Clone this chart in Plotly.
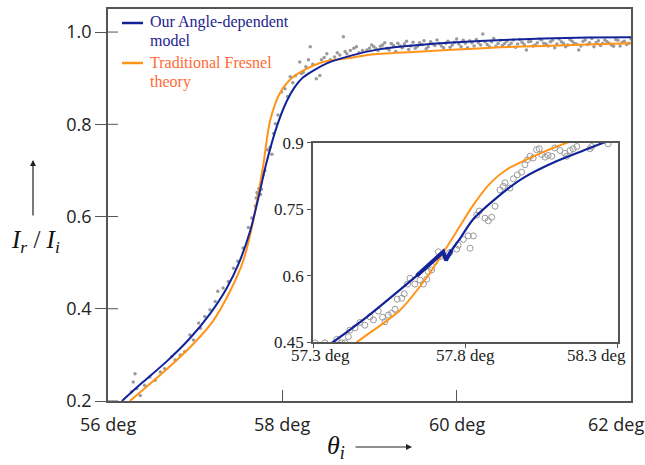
import plotly.graph_objects as go

# ---------------- data ----------------
# main curves
main_blue_x = [56.16, 56.40, 56.68, 56.94, 57.17, 57.36, 57.51, 57.63, 57.72, 57.82, 57.94, 58.05, 58.14, 58.24, 58.51, 58.81, 59.12, 59.50, 60.00, 60.53, 61.00, 61.50, 62.00]
main_blue_y = [0.200, 0.241, 0.287, 0.336, 0.389, 0.444, 0.503, 0.568, 0.636, 0.718, 0.797, 0.850, 0.880, 0.902, 0.932, 0.950, 0.963, 0.971, 0.978, 0.983, 0.986, 0.988, 0.989]
main_orange_x = [56.25, 56.68, 56.97, 57.20, 57.40, 57.55, 57.66, 57.72, 57.78, 57.86, 57.97, 58.12, 58.43, 58.81, 59.00, 59.50, 60.00, 60.50, 61.00, 61.50, 62.00]
main_orange_y = [0.200, 0.270, 0.322, 0.372, 0.438, 0.503, 0.585, 0.645, 0.710, 0.808, 0.867, 0.902, 0.933, 0.945, 0.951, 0.957, 0.962, 0.967, 0.970, 0.973, 0.976]

# main measured points
main_pts_x = [56.27, 56.29, 56.31, 56.33, 56.37, 56.42, 56.48, 56.54, 56.60, 56.65, 56.73, 56.77, 56.83, 56.88, 56.94, 56.98,
              57.04, 57.06, 57.11, 57.17, 57.23, 57.26, 57.32, 57.38, 57.44, 57.49, 57.55, 57.61, 57.65, 57.69, 57.72, 57.76,
              57.70, 57.71, 57.73, 57.75, 57.78, 57.80, 57.83, 57.86, 57.88, 57.90, 57.92, 57.95, 57.99, 58.03, 58.06, 58.09,
              58.12, 58.15, 58.20, 58.22, 58.24, 58.27, 58.30, 58.32, 58.35, 58.39, 58.43, 58.45, 58.48, 58.51, 58.55, 58.60,
              58.63, 58.66, 58.70, 58.72, 58.74, 58.78, 58.82, 58.85, 58.88, 58.92, 58.97, 59.00]
main_pts_y = [0.220, 0.241, 0.259, 0.227, 0.212, 0.234, 0.252, 0.245, 0.263, 0.270, 0.296, 0.289, 0.300, 0.307, 0.343, 0.332,
              0.369, 0.358, 0.383, 0.398, 0.416, 0.438, 0.445, 0.459, 0.488, 0.503, 0.532, 0.576, 0.597, 0.623, 0.648, 0.659,
              0.640, 0.652, 0.660, 0.648, 0.690, 0.700, 0.745, 0.750, 0.735, 0.780, 0.801, 0.820, 0.870, 0.877, 0.860, 0.903,
              0.890, 0.905, 0.935, 0.910, 0.913, 0.925, 0.940, 0.968, 0.930, 0.899, 0.906, 0.940, 0.945, 0.953, 0.940, 0.946,
              0.955, 0.950, 0.990, 0.958, 0.953, 0.960, 0.965, 0.968, 0.955, 0.960, 0.961, 0.965]

tail_a_x = [59.05, 59.10, 59.15, 59.20, 59.25, 59.30, 59.35, 59.40, 59.45, 59.50, 59.55, 59.60, 59.65, 59.70, 59.75,
            59.80, 59.85, 59.90, 59.95, 60.00, 60.05, 60.10, 60.15, 60.20, 60.25, 60.30, 60.35, 60.40, 60.45, 60.50,
            60.55, 60.60, 60.65, 60.70, 60.75, 60.80, 60.85, 60.90, 60.95, 61.00, 61.05, 61.10, 61.15, 61.20, 61.25,
            61.30, 61.35, 61.40, 61.45, 61.50, 61.55, 61.60, 61.65, 61.70, 61.75, 61.80, 61.85, 61.90, 61.95, 62.00]
tail_a_y = [0.968, 0.960, 0.972, 0.965, 0.975, 0.958, 0.970, 0.974, 0.962, 0.978, 0.969, 0.973, 0.964, 0.979, 0.971,
            0.975, 0.966, 0.980, 0.972, 0.985, 0.968, 0.976, 0.981, 0.970, 0.977, 0.996, 0.973, 0.979, 0.969, 0.982,
            0.975, 0.971, 0.983, 0.974, 0.978, 0.961, 0.980, 0.972, 0.985, 0.976, 0.970, 0.982, 0.974, 0.979, 0.968,
            0.984, 0.975, 0.961, 0.980, 0.973, 0.986, 0.977, 0.971, 0.983, 0.976, 0.969, 0.982, 0.978, 0.973, 0.985]
tail_b_x = [59.025, 59.075, 59.125, 59.175, 59.225, 59.275, 59.325, 59.375, 59.425, 59.475, 59.525, 59.575, 59.625, 59.675, 59.725,
            59.775, 59.825, 59.875, 59.925, 59.975, 60.025, 60.075, 60.125, 60.175, 60.225, 60.275, 60.325, 60.375, 60.425, 60.475,
            60.525, 60.575, 60.625, 60.675, 60.725, 60.775, 60.825, 60.875, 60.925, 60.975, 61.025, 61.075, 61.125, 61.175, 61.225,
            61.275, 61.325, 61.375, 61.425, 61.475, 61.525, 61.575, 61.625, 61.675, 61.725, 61.775, 61.825, 61.875, 61.925, 61.975]
tail_b_y = [0.972, 0.964, 0.969, 0.977, 0.961, 0.971, 0.976, 0.966, 0.980, 0.970, 0.965, 0.977, 0.981, 0.968, 0.974,
            0.983, 0.970, 0.976, 0.967, 0.978, 0.974, 0.982, 0.966, 0.977, 0.984, 0.972, 0.979, 0.968, 0.986, 0.975,
            0.971, 0.980, 0.976, 0.967, 0.984, 0.973, 0.979, 0.970, 0.977, 0.983, 0.974, 0.979, 0.966, 0.985, 0.976,
            0.972, 0.980, 0.974, 0.970, 0.983, 0.977, 0.968, 0.981, 0.975, 0.979, 0.972, 0.984, 0.970, 0.980, 0.976]

# inset curves
inset_blue_x = [57.30, 57.366, 57.477, 57.585, 57.674, 57.727, 57.736, 57.755, 57.782, 57.826, 57.902, 57.99, 58.10, 58.21, 58.25, 58.30]
inset_blue_y = [0.418, 0.450, 0.507, 0.568, 0.620, 0.654, 0.635, 0.658, 0.684, 0.728, 0.776, 0.821, 0.859, 0.889, 0.900, 0.910]
inset_dense_x = [57.640, 57.674, 57.727, 57.736, 57.755]
inset_dense_y = [0.600, 0.620, 0.654, 0.635, 0.658]
inset_orange_x = [57.40, 57.444, 57.585, 57.674, 57.726, 57.771, 57.826, 57.880, 57.935, 58.03, 58.13, 58.20]
inset_orange_y = [0.425, 0.450, 0.522, 0.597, 0.651, 0.700, 0.760, 0.808, 0.840, 0.872, 0.900, 0.915]

# inset measured points
inset_pts_x = [57.307, 57.339, 57.378, 57.394, 57.405, 57.416, 57.421, 57.438, 57.454, 57.470, 57.487, 57.498, 57.514, 57.528,
               57.536, 57.547, 57.558, 57.569, 57.576, 57.591, 57.599, 57.610, 57.618, 57.634, 57.651, 57.662, 57.673, 57.678,
               57.689, 57.700, 57.711, 57.716, 57.748, 57.771, 57.776, 57.793, 57.809, 57.815, 57.826, 57.837, 57.845, 57.864,
               57.875, 57.886, 57.897, 57.913, 57.924, 57.930, 57.946, 57.957, 57.970, 57.984, 57.995, 58.003, 58.012, 58.022,
               58.033, 58.042, 58.050, 58.061, 58.071, 58.083, 58.093, 58.110, 58.126, 58.132, 58.143, 58.153, 58.165, 58.208,
               58.214, 58.268]
inset_pts_y = [0.448, 0.448, 0.456, 0.448, 0.448, 0.462, 0.477, 0.482, 0.494, 0.488, 0.507, 0.500, 0.520, 0.506,
               0.496, 0.511, 0.515, 0.524, 0.547, 0.549, 0.559, 0.581, 0.594, 0.581, 0.590, 0.581, 0.592, 0.609,
               0.613, 0.632, 0.654, 0.643, 0.652, 0.660, 0.669, 0.682, 0.690, 0.662, 0.690, 0.737, 0.746, 0.730,
               0.724, 0.732, 0.757, 0.794, 0.802, 0.810, 0.798, 0.819, 0.828, 0.834, 0.851, 0.862, 0.870, 0.866,
               0.885, 0.887, 0.874, 0.868, 0.872, 0.870, 0.889, 0.883, 0.877, 0.870, 0.883, 0.887, 0.892, 0.887,
               0.892, 0.898]

# axes ticks
main_xticks = [56, 58, 60, 62]
main_xlabels = ["56 deg", "58 deg", "60 deg", "62 deg"]
main_yticks = [0.2, 0.4, 0.6, 0.8, 1.0]
main_ylabels = ["0.2", "0.4", "0.6", "0.8", "1.0"]
inset_xticks = [57.3, 57.8, 58.3]
inset_xlabels = ["57.3 deg", "57.8 deg", "58.3 deg"]
inset_yticks = [0.45, 0.6, 0.75, 0.9]
inset_ylabels = ["0.45", "0.6", "0.75", "0.9"]

legend_names = ["Our Angle-dependent", "model", "Traditional Fresnel", "theory"]

# ---------------- styles ----------------
BLUE = "#12239a"
ORANGE = "#ff9418"
BLUE_TXT = "#23238c"
ORANGE_TXT = "#ff6a35"
GRAY = "#9a9a9a"
AX = "#555555"

fig = go.Figure()

# main
for xs, ys in [(main_pts_x, main_pts_y), (tail_a_x, tail_a_y), (tail_b_x, tail_b_y)]:
    fig.add_trace(go.Scatter(x=xs, y=ys, mode="markers", marker=dict(size=3.5, color=GRAY),
                             showlegend=False, hoverinfo="skip", xaxis="x", yaxis="y"))
fig.add_trace(go.Scatter(x=main_orange_x, y=main_orange_y, mode="lines",
                         line=dict(color=ORANGE, width=2, shape="spline", smoothing=0.8),
                         showlegend=False, xaxis="x", yaxis="y"))
fig.add_trace(go.Scatter(x=main_blue_x, y=main_blue_y, mode="lines",
                         line=dict(color=BLUE, width=2, shape="spline", smoothing=0.8),
                         showlegend=False, xaxis="x", yaxis="y"))

# inset
fig.add_trace(go.Scatter(x=inset_pts_x, y=inset_pts_y, mode="markers",
                         marker=dict(size=6, symbol="circle-open", color=GRAY, line=dict(width=1)),
                         showlegend=False, hoverinfo="skip", xaxis="x2", yaxis="y2"))
fig.add_trace(go.Scatter(x=inset_orange_x, y=inset_orange_y, mode="lines",
                         line=dict(color=ORANGE, width=2, shape="spline", smoothing=0.8),
                         showlegend=False, xaxis="x2", yaxis="y2"))
fig.add_trace(go.Scatter(x=inset_blue_x, y=inset_blue_y, mode="lines",
                         line=dict(color=BLUE, width=2.2, shape="spline", smoothing=0.8),
                         showlegend=False, xaxis="x2", yaxis="y2"))
fig.add_trace(go.Scatter(x=inset_dense_x, y=inset_dense_y, mode="lines",
                         line=dict(color=BLUE, width=4),
                         showlegend=False, xaxis="x2", yaxis="y2"))

sans = dict(family="Open Sans, Lato, sans-serif", size=18, color="#222222")
serif = dict(family="Liberation Serif, Times New Roman, serif", size=17, color="#222222")

fig.update_layout(
    width=645, height=465,
    margin=dict(l=108, r=14, t=9, b=64, autoexpand=False, pad=0),
    paper_bgcolor="white", plot_bgcolor="white",
    showlegend=False,
    xaxis=dict(domain=[0, 1], range=[56, 62], tickvals=main_xticks, showticklabels=False,
               ticks="inside", ticklen=11, tickcolor=AX, tickwidth=1,
               showline=True, linecolor=AX, linewidth=1.5, mirror=True, showgrid=False, zeroline=False),
    yaxis=dict(domain=[0, 1], range=[0.2, 1.05], tickvals=main_yticks, ticktext=main_ylabels,
               ticks="outside", ticklen=11, tickcolor=AX, tickwidth=1,
               showline=True, linecolor=AX, linewidth=1.5, mirror=True, showgrid=False, zeroline=False,
               tickfont=sans, automargin=False),
    xaxis2=dict(domain=[0.392, 0.975], range=[57.3, 58.3], anchor="y2", tickvals=inset_xticks,
                ticks="outside", ticklen=4, tickcolor=AX, showticklabels=False,
                showline=True, linecolor=AX, linewidth=1.5, mirror=True, showgrid=False, zeroline=False),
    yaxis2=dict(domain=[0.1505, 0.6582], range=[0.45, 0.9], anchor="x2", tickvals=inset_yticks, ticktext=inset_ylabels,
                ticks="outside", ticklen=4, tickcolor=AX,
                showline=True, linecolor=AX, linewidth=1.5, mirror=True, showgrid=False, zeroline=False,
                tickfont=serif),
)

# inner half of the cross ticks on main y axis
for v in main_yticks:
    fig.add_shape(type="line", xref="x", yref="y", xsizemode="pixel", xanchor=56, x0=0, x1=10,
                  y0=v, y1=v, line=dict(color=AX, width=1))

# main x tick labels
main_shifts = [0, 0, 0, -15]
for v, lab, s in zip(main_xticks, main_xlabels, main_shifts):
    fig.add_annotation(x=v, y=0.2, xref="x", yref="y", text=lab, showarrow=False, font=sans,
                       xanchor="center", yanchor="top", xshift=s, yshift=-9)

# inset x tick labels
shifts = [7, 0, -21]
for v, lab, s in zip(inset_xticks, inset_xlabels, shifts):
    fig.add_annotation(x=v, y=0.45, xref="x2", yref="y2", text=lab, showarrow=False, font=serif,
                       xanchor="center", yanchor="top", xshift=s, yshift=-2)

# legend
def px_x(p):
    return (p - 108) / 523
def px_y(p):
    return (401 - p) / 392

fig.add_shape(type="line", xref="paper", yref="paper", x0=px_x(122), x1=px_x(143), y0=px_y(23), y1=px_y(23),
              line=dict(color=BLUE, width=2.5))
fig.add_shape(type="line", xref="paper", yref="paper", x0=px_x(122), x1=px_x(143), y0=px_y(63), y1=px_y(63),
              line=dict(color=ORANGE, width=2.5))
leg_font_b = dict(family="Liberation Serif, Times New Roman, serif", size=16, color=BLUE_TXT)
leg_font_o = dict(family="Liberation Serif, Times New Roman, serif", size=16, color=ORANGE_TXT)
for name, py, f in zip(legend_names, [22, 40, 63, 82], [leg_font_b, leg_font_b, leg_font_o, leg_font_o]):
    fig.add_annotation(x=px_x(148), y=px_y(py), xref="paper", yref="paper", text=name, showarrow=False,
                       font=f, xanchor="left", yanchor="middle")

# axis titles
fig.add_annotation(x=px_x(35), y=px_y(241), xref="paper", yref="paper",
                   text="<i>I<sub>r</sub></i> / <i>I<sub>i</sub></i>", showarrow=False,
                   font=dict(family="Liberation Serif, Times New Roman, serif", size=25, color="#111111"),
                   xanchor="center", yanchor="middle")
fig.add_annotation(x=px_x(33), y=px_y(160), xref="paper", yref="paper", text="", showarrow=True,
                   ax=0, ay=57, arrowhead=2, arrowsize=1, arrowwidth=1.2, arrowcolor="#222222")
fig.add_annotation(x=px_x(336), y=px_y(447), xref="paper", yref="paper",
                   text="<i>θ<sub>i</sub></i>", showarrow=False,
                   font=dict(family="Liberation Serif, Times New Roman, serif", size=26, color="#111111"),
                   xanchor="center", yanchor="middle")
fig.add_annotation(x=px_x(412), y=px_y(447), xref="paper", yref="paper", text="", showarrow=True,
                   ax=-58, ay=0, arrowhead=2, arrowsize=1, arrowwidth=1.2, arrowcolor="#222222")

fig.write_html("out.html", post_script="document.body.style.margin='0px';",
               config={"displayModeBar": False})
